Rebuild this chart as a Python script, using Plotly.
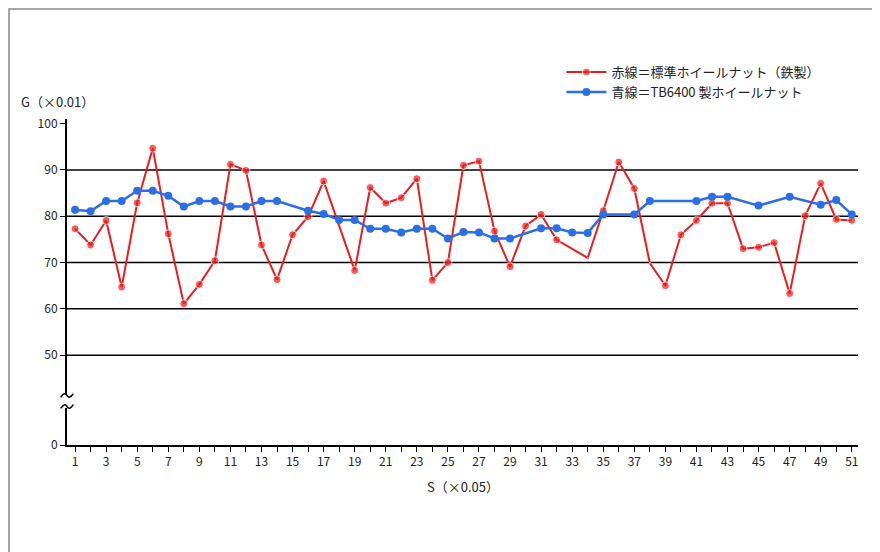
import plotly.graph_objects as go

red_x = list(range(1, 18)) + list(range(19, 33)) + list(range(34, 52))
red_y = [77.3, 73.8, 79.1, 64.7, 82.9, 94.7, 76.2, 61.1, 65.3, 70.4, 91.2, 89.9, 73.8, 66.3, 76.0, 79.9, 87.6,
         68.3, 86.2, 82.8, 84.0, 88.1, 66.2, 70.0, 91.0, 91.9, 76.8, 69.1, 77.9, 80.4, 74.9,
         71.0, 81.2, 91.7, 86.0, 69.9, 65.0, 76.0, 79.1, 82.8, 82.8, 73.0, 73.3, 74.3, 63.3, 80.1, 87.1, 79.3, 79.1]
red_marker = [True]*31 + [False] + [True]*3 + [False] + [True]*13
blue_x = [1, 2, 3, 4, 5, 6, 7, 8, 9, 10, 11, 12, 13, 14, 16, 17, 18, 19, 20, 21, 22, 23, 24, 25, 26, 27,
          28, 29, 31, 32, 33, 34, 35, 37, 38, 41, 42, 43, 45, 47, 49, 50, 51]
blue_y = [81.4, 81.1, 83.3, 83.3, 85.5, 85.5, 84.4, 82.1, 83.3, 83.3, 82.1, 82.1, 83.3, 83.3, 81.2, 80.5, 79.2,
          79.2, 77.3, 77.3, 76.5, 77.3, 77.3, 75.2, 76.6, 76.5, 75.2, 75.2, 77.4, 77.4, 76.5, 76.4, 80.4, 80.4,
          83.3, 83.3, 84.2, 84.2, 82.3, 84.2, 82.5, 83.5, 80.4]
y_tickvals = [30.6, 50, 60, 70, 80, 90, 100]
y_ticktext = ["0", "50", "60", "70", "80", "90", "100"]
x_ticks = list(range(1, 52))
x_text = [str(v) if v % 2 else "" for v in x_ticks]
red_name = "赤線＝標準ホイールナット（鉄製）"
blue_name = "青線＝TB6400 製ホイールナット"

RED, BLUE = "#ee1c1c", "#2a6fe8"
fig = go.Figure()
fig.add_trace(go.Scatter(x=red_x, y=red_y, mode="lines+markers", name=red_name,
                         line=dict(color=RED, width=2),
                         marker=dict(color=RED, size=[8 if m else 1 for m in red_marker])))
fig.add_trace(go.Scatter(x=blue_x, y=blue_y, mode="lines+markers", name=blue_name,
                         line=dict(color=BLUE, width=2.5), marker=dict(color=BLUE, size=8)))

shapes = []
for g in [50, 60, 70, 80, 90]:
    shapes.append(dict(type="line", xref="paper", yref="y", x0=0, x1=1, y0=g, y1=g,
                       line=dict(color="black", width=1.5), layer="below"))
shapes.append(dict(type="rect", xref="paper", yref="y", x0=-0.006, x1=0.006, y0=38.6, y1=41.6,
                   fillcolor="white", line=dict(width=0)))
for yb in [38.9, 41.3]:
    shapes.append(dict(type="path", xref="paper", yref="y",
                       path=f"M -0.008,{yb-0.4} Q -0.003,{yb+0.9} 0.0,{yb} T 0.008,{yb+0.4}",
                       line=dict(color="black", width=1.5)))
shapes.append(dict(type="rect", xref="paper", yref="paper", x0=-58/791, x1=(879-59)/791,
                   y0=-114/326, y1=(436)/326, line=dict(color="#888", width=1.5)))
fig.update_layout(
    width=880, height=552, margin=dict(l=59, r=30, t=111, b=115, autoexpand=False),
    paper_bgcolor="white", plot_bgcolor="white",
    font=dict(family="Noto Sans CJK JP", size=12, color="#222"),
    shapes=shapes,
    xaxis=dict(range=[0.48, 51.4], tickvals=x_ticks, ticktext=x_text, ticks="outside", ticklen=5,
               tickcolor="black", showline=True, linecolor="black", linewidth=2, showgrid=False,
               zeroline=False, tickfont=dict(size=12)),
    yaxis=dict(range=[30.6, 101], tickvals=y_tickvals, ticktext=y_ticktext, ticks="outside", ticklen=5,
               tickcolor="black", showline=True, linecolor="black", linewidth=2, showgrid=False,
               zeroline=False, tickfont=dict(size=12)),
    legend=dict(x=0.625, y=1.19, xanchor="left", yanchor="top", bgcolor="rgba(0,0,0,0)",
                font=dict(size=13), itemwidth=40, tracegroupgap=8),
    annotations=[
        dict(text="G（×0.01）", xref="paper", yref="paper", x=-48/791, y=(437-82)/326,
             showarrow=False, xanchor="left", font=dict(size=13)),
        dict(text="S（×0.05）", xref="paper", yref="paper", x=(455-59)/791, y=-(490-437)/326,
             showarrow=False, font=dict(size=13)),
    ],
)
fig.write_html("out.html")
